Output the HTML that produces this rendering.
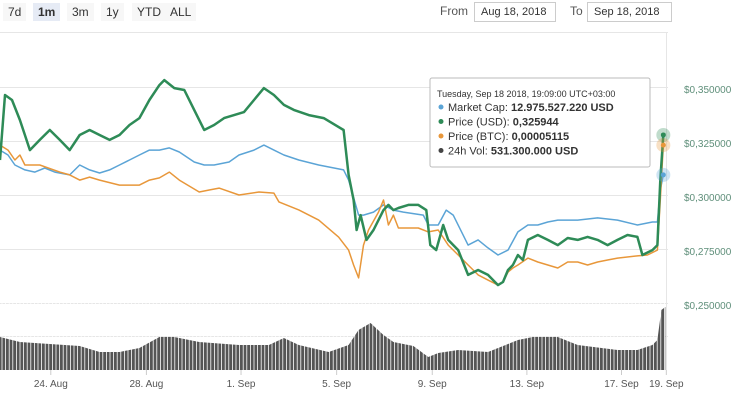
<!DOCTYPE html>
<html><head><meta charset="utf-8"><style>
body{margin:0;width:735px;height:400px;background:#fff;font-family:"Liberation Sans",sans-serif;overflow:hidden;position:relative}
.btn{position:absolute;top:3px;height:18px;line-height:18px;font-size:12px;color:#333;padding:0 5px;background:#f7f7f7;white-space:nowrap}
.sel{background:#e6ebf5;font-weight:bold}
.lbl{position:absolute;font-size:12px;color:#555;top:4px}
.inp{position:absolute;top:2px;height:18px;border:1px solid #ccc;font-size:11px;line-height:18px;color:#333;padding:0 6px;white-space:nowrap;overflow:hidden}
</style></head><body>
<div class="btn" style="left:3px">7d</div>
<div class="btn sel" style="left:33px">1m</div>
<div class="btn" style="left:67px">3m</div>
<div class="btn" style="left:101px">1y</div>
<div class="btn" style="left:132px">YTD</div>
<div class="btn" style="left:165px">ALL</div>
<div class="lbl" style="left:440px">From</div>
<div class="inp" style="left:474px;width:68px">Aug 18, 2018</div>
<div class="lbl" style="left:570px">To</div>
<div class="inp" style="left:587px;width:71px">Sep 18, 2018</div>
<svg id="c" width="735" height="400" style="position:absolute;left:0;top:0"></svg>
<script>
const gT=[0,5,12,20,25,30,40,50,60,70,80,90,100,110,120,130,140,150,160,165,175,185,195,205,215,225,235,245,255,265,275,285,295,310,325,345,350,355,358,362,368,375,385,390,395,400,410,420,428,432,438,445,450,460,470,480,490,500,505,510,515,520,525,530,540,550,560,570,580,590,600,610,620,630,640,645,655,660,663,666];
const gV=[316.2,346.3,344.0,334.7,327.8,320.8,325.5,330.1,325.5,320.8,327.8,330.1,327.8,325.5,327.8,332.4,335.6,344.0,350.9,353.2,349.5,348.6,339.4,330.1,332.4,335.6,337.0,338.4,344.0,349.5,346.3,341.7,339.4,337.0,335.6,330.1,309.3,297.7,283.8,290.7,279.2,283.8,293.0,295.4,293.0,294.0,295.4,295.4,293.0,276.8,274.5,286.1,279.2,274.5,263.0,265.3,263.0,258.3,259.7,265.3,267.6,272.2,269.9,279.2,281.5,279.2,276.8,280.1,279.2,280.6,279.2,276.8,279.2,281.5,280.6,272.2,274.5,276.8,306.9,327.8];
const oT=[0,8,15,20,25,40,60,70,80,90,100,120,140,150,160,170,180,200,210,220,240,260,275,280,300,320,340,350,355,360,365,370,380,385,390,395,400,420,430,440,450,460,470,480,490,500,505,510,515,520,530,540,550,560,570,580,590,600,610,620,640,650,660,663,666];
const oV=[323.1,320.8,316.2,318.5,313.9,313.9,310.6,309.3,306.9,308.3,306.9,304.6,304.6,306.9,307.9,310.6,306.9,301.4,302.3,303.2,300.0,301.4,300.9,296.8,293.1,288.4,280.5,274.5,267.6,261.6,276.8,283.8,292.1,297.7,286.1,290.7,284.7,284.7,282.9,283.8,276.8,272.2,267.6,263.0,260.6,258.3,259.7,264.3,266.2,267.6,270.8,269.0,267.6,266.2,269.0,269.0,267.6,269.0,269.9,270.8,271.8,272.2,274.5,297.7,323.1];
const bT=[0,8,15,25,35,45,55,70,80,90,100,110,120,130,140,150,160,170,180,195,205,215,230,240,255,265,275,285,300,320,345,350,360,365,375,385,395,405,425,430,440,448,455,470,480,490,500,510,520,530,540,550,560,580,600,620,640,655,660,663,666];
const bV=[320.8,318.5,313.9,311.6,310.6,312.5,310.6,309.3,313.9,311.6,310.2,311.6,313.9,316.2,318.5,320.8,320.8,321.8,319.9,315.3,313.9,313.9,315.3,318.5,320.8,323.1,320.8,318.5,316.2,313.9,311.6,306.9,290.7,290.7,292.1,295.4,293.0,292.1,290.7,286.1,286.1,293.0,290.7,276.8,279.2,275.5,272.2,274.5,282.9,286.1,286.1,287.5,288.4,288.4,289.4,288.4,286.1,287.5,287.5,302.3,309.3];
const vT=[0,20,50,80,100,120,140,160,175,200,240,270,285,300,330,350,360,372,385,395,415,430,440,460,490,520,535,560,580,620,640,655,660,664,668];
const vV=[33,28,26,24,18,18,22,33,33,28,25,25,32,25,18,25,40,47,35,28,24,13,17,20,18,30,33,33,25,20,20,25,30,60,63];
const yTicks=[350,325,300,275,250];
const xTickLabels=["24. Aug","28. Aug","1. Sep","5. Sep","9. Sep","13. Sep","17. Sep","19. Sep"];
const xTickHours=[51,147,242,338,434,529,624,669];

const NS="http://www.w3.org/2000/svg",svg=document.getElementById("c");
const X=h=>h*0.996, Y=v=>87+(350-v)/25*54, VY=v=>370-v*1.0;
function el(t,a,p){const e=document.createElementNS(NS,t);for(const k in a)e.setAttribute(k,a[k]);(p||svg).appendChild(e);return e;}
el("line",{x1:0,x2:668,y1:32.5,y2:32.5,stroke:"#e6e6e6"});
el("line",{x1:666.5,x2:666.5,y1:32,y2:370,stroke:"#e6e6e6"});
yTicks.forEach(v=>{
 const g=el("line",{x1:0,x2:668,y1:Y(v)+.5,y2:Y(v)+.5,stroke:"#e6e6e6"});
 
 
 const t=el("text",{x:684,y:Y(v)+6,"font-size":10,fill:"#5f8f7a"});
 t.textContent="$0,"+v+"000";
 
 
});
el("line",{x1:0,x2:668,y1:336.5,y2:336.5,stroke:"#e6e6e6"});
let d="M"+X(vT[0])+",370";vT.forEach((t,i)=>d+="L"+X(t)+","+VY(vV[i]));d+="L"+X(vT[vT.length-1])+",370Z";
const va=el("path",{d:d,fill:"#555"});


for(let x=2;x<666;x+=3.6){el("line",{x1:x,x2:x,y1:300,y2:370,stroke:"#fff","stroke-width":0.8});}
function line(T,V,c,w,name){let p="";T.forEach((t,i)=>p+=(i?"L":"M")+X(t).toFixed(1)+","+Y(V[i]).toFixed(1));
 const e=el("path",{d:p,fill:"none",stroke:c,"stroke-width":w,"stroke-linejoin":"round"});
 
 }
line(bT,bV,"#5ba4d6",1.5,"market-cap-line");
line(oT,oV,"#e8973a",1.5,"price-btc-line");
line(gT,gV,"#2e8b57",2.5,"price-usd-line");
[[gT,gV,"#2e8b57"],[oT,oV,"#e8973a"],[bT,bV,"#5ba4d6"]].forEach(s=>{const n=s[0].length-1;
 el("circle",{cx:X(s[0][n]),cy:Y(s[1][n]),r:7,fill:s[2],opacity:0.3});
 el("circle",{cx:X(s[0][n]),cy:Y(s[1][n]),r:2.5,fill:s[2]});});
xTickLabels.forEach((l,i)=>{const x=X(xTickHours[i]);
 el("line",{x1:x,x2:x,y1:370,y2:375,stroke:"#ccc"});
 const t=el("text",{x:x,y:387,"font-size":10,fill:"#555","text-anchor":"middle"});t.textContent=l;
 
 });
const tg=el("g",{});


el("rect",{x:430,y:78,width:220,height:89,fill:"#fff",stroke:"#bbb",rx:2},tg);
const tt=el("text",{x:437,y:97,"font-size":9,fill:"#333"},tg);tt.textContent="Tuesday, Sep 18 2018, 19:09:00 UTC+03:00";
[["#5ba4d6","Market Cap: ","12.975.527.220 USD"],["#2e8b57","Price (USD): ","0,325944"],["#e8973a","Price (BTC): ","0,00005115"],["#444","24h Vol: ","531.300.000 USD"]].forEach((r,i)=>{
 const y=111+i*14.5;
 el("circle",{cx:441,cy:y-4,r:2.5,fill:r[0]},tg);
 const t=el("text",{x:448,y:y,"font-size":11,fill:"#333"},tg);
 const a=el("tspan",{},t);a.textContent=r[1];
 const b=el("tspan",{"font-weight":"bold"},t);b.textContent=r[2];});
</script>
</body></html>
